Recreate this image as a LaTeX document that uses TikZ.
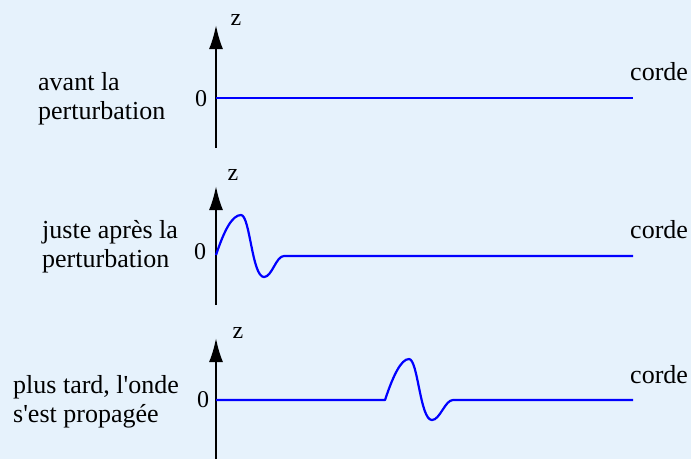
\documentclass[tikz,border=0pt]{standalone}
\usepackage{fontspec}
\setmainfont{Liberation Serif}
\usetikzlibrary{arrows.meta}
\definecolor{bgblue}{RGB}{230,242,252}
\definecolor{wave}{RGB}{0,0,255}
\begin{document}
\begin{tikzpicture}[x=1pt,y=-1pt,
  zaxis/.style={line width=2.2pt, -{Latex[length=24pt,width=14pt]}},
  corda/.style={wave, line width=2.2pt, line join=round},
  lbl/.style={font=\fontsize{26}{29}\selectfont, align=left, anchor=west, inner sep=0pt},
  small/.style={font=\fontsize{24}{28}\selectfont, inner sep=0pt},
  cordelbl/.style={font=\fontsize{26}{29}\selectfont, anchor=base west, inner sep=0pt}]
\fill[bgblue] (0,0) rectangle (691,459);
\useasboundingbox (0,0) rectangle (691,459);

% Panel 1
\coordinate (a1b) at (216,148);
\coordinate (a1t) at (216,25);
\draw[zaxis] (a1b) -- (a1t);
\node[small] (z1) at (236,20) {z};
\node[small] (o1) at (201,99) {0};
\coordinate (s1a) at (216,98);
\coordinate (s1b) at (633,98);
\draw[corda] (s1a) -- (s1b);
\node[cordelbl] (c1) at (630,80) {corde};
\node[lbl] (l1) at (38,99) {avant la\\perturbation};

% Panel 2
\coordinate (a2b) at (216,305);
\coordinate (a2t) at (216,186);
\draw[zaxis] (a2b) -- (a2t);
\node[small] (z2) at (233,175) {z};
\node[small] (o2) at (200,252) {0};
\coordinate (s2a) at (216,255);
\coordinate (s2b) at (633,256);
\draw[corda] (s2a) .. controls (224,231) and (232,215) .. (241,215)
  .. controls (250,215) and (252,277) .. (264,277)
  .. controls (272,277) and (276,256) .. (284,256) -- (s2b);
\node[cordelbl] (c2) at (630,238) {corde};
\node[lbl] (l2) at (42,247) {juste après la\\perturbation};

% Panel 3
\coordinate (a3b) at (216,459);
\coordinate (a3t) at (216,338);
\draw[zaxis] (a3b) -- (a3t);
\node[small] (z3) at (238,333) {z};
\node[small] (o3) at (203,400) {0};
\coordinate (s3a) at (216,400);
\coordinate (s3b) at (633,400);
\draw[corda] (s3a) -- (385,400) .. controls (393,376) and (401,359) .. (409,359)
  .. controls (418,359) and (420,420) .. (432,420)
  .. controls (440,420) and (445,400) .. (453,400) -- (s3b);
\node[cordelbl] (c3) at (630,383) {corde};
\node[lbl] (l3) at (13,402) {plus tard, l\textquotesingle onde\\s\textquotesingle est propagée};
\end{tikzpicture}
\end{document}
